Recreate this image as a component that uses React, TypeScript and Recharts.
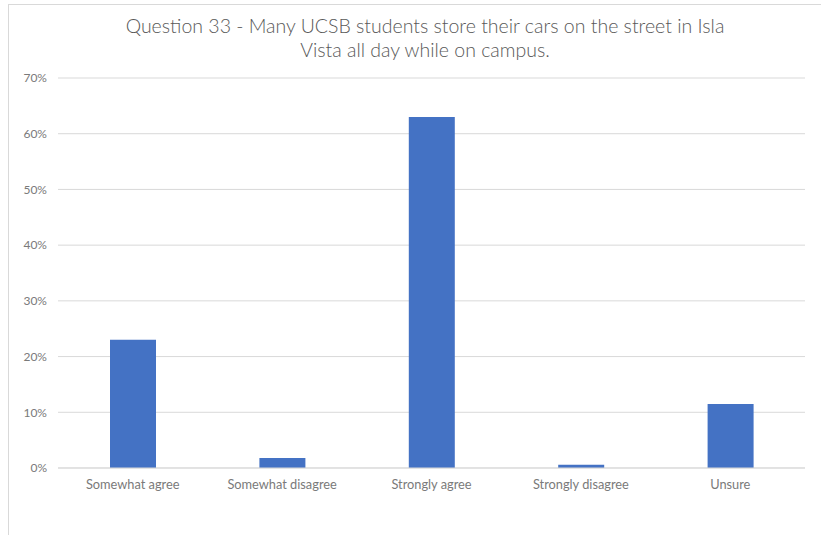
import React from "react";
import { BarChart, Bar, XAxis, YAxis, CartesianGrid } from "recharts";

const categories = ["Somewhat agree", "Somewhat disagree", "Strongly agree", "Strongly disagree", "Unsure"];
const percentages = [23.0, 1.8, 63.0, 0.6, 11.5];
const yTicks = [0, 10, 20, 30, 40, 50, 60, 70];
const titleLines = ["Question 33 - Many UCSB students store their cars on the street in Isla", "Vista all day while on campus."];

const data = categories.map((c, i) => ({ category: c, value: percentages[i] }));

const FONT = "Lato, 'Open Sans', sans-serif";
const GREY = "#595959";
const TICK_GREY = "#7a7a7a";

export default function App() {
  return (
    <div
      style={{
        position: "absolute",
        left: 8,
        top: 4,
        width: 830,
        height: 540,
        borderLeft: "1px solid #d9d9d9",
        borderTop: "1px solid #d9d9d9",
        background: "#fff",
        fontFamily: FONT,
      }}
    >
      <div
        style={{
          position: "absolute",
          left: 0,
          top: 9,
          width: 832,
          textAlign: "center",
          fontSize: 19.5,
          fontWeight: 300,
          lineHeight: "24px",
          color: GREY,
          fontFamily: FONT,
        }}
      >
        <div>{titleLines[0]}</div>
        <div>{titleLines[1]}</div>
      </div>
      <BarChart
        width={813}
        height={531}
        data={data}
        margin={{ top: 73, right: 17, bottom: 38, left: 0 }}
      >
        <CartesianGrid vertical={false} stroke="#d9d9d9" />
        <XAxis
          dataKey="category"
          tickLine={false}
          axisLine={{ stroke: "#d9d9d9" }}
          tickMargin={6}
          tick={{ fill: TICK_GREY, fontSize: 12.8, fontFamily: FONT }}
          interval={0}
        />
        <YAxis
          width={49}
          domain={[0, 70]}
          ticks={yTicks}
          tickFormatter={(v) => `${v}%`}
          tickLine={false}
          axisLine={false}
          tickMargin={5}
          tick={{ fill: TICK_GREY, fontSize: 12, fontFamily: FONT }}
        />
        <Bar dataKey="value" fill="#4472C4" barSize={46} isAnimationActive={false} />
      </BarChart>
    </div>
  );
}
